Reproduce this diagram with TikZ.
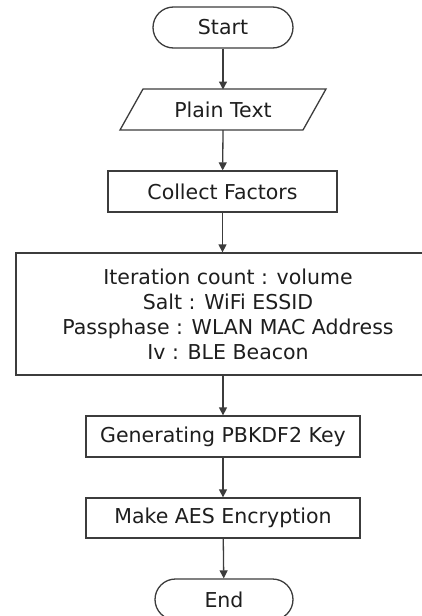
\documentclass[tikz,border=0pt]{standalone}
\usepackage{fontspec}
\setmainfont{DejaVu Sans}
\usetikzlibrary{shapes.misc,arrows.meta}
\definecolor{ln}{HTML}{3C3C3C}
\definecolor{tx}{HTML}{1E1E1E}
\tikzset{
  box/.style={draw=ln, line width=1.3pt, rectangle, inner sep=0pt, text=tx, align=center, font=\fontsize{20.5}{25}\selectfont},
  term/.style={box, rounded rectangle, minimum width=140pt, minimum height=41pt},
  plain/.style={inner sep=0pt, text=tx, font=\fontsize{20.5}{25}\selectfont},
  conn/.style={draw=ln, line width=1.3pt, -{Triangle[width=8pt,length=8pt]}}
}
\begin{document}
\begin{tikzpicture}[x=1pt,y=-1pt]
\useasboundingbox (0,0) rectangle (422,616);
\clip (0,0) rectangle (422,616);
\fill[white] (0,0) rectangle (422,616);
\node[term] (start) at (223,27.5) {Start};
\coordinate (pin) at (223,89.5);
\node[plain, minimum width=183pt, minimum height=41pt] (pt) at (223,109.5) {Plain Text};
\draw[ln, line width=1.3pt] (143,89) -- (326,89) -- (303,130) -- (120,130) -- cycle;
\node[box, minimum width=229pt, minimum height=41pt] (cf) at (222.5,191.5) {Collect Factors};
\node[box, minimum width=424pt, minimum height=122pt] (fac) at (228,314) {Iteration count : volume\\Salt : WiFi ESSID\\Passphase : WLAN MAC Address\\Iv : BLE Beacon};
\node[box, minimum width=274pt, minimum height=41pt] (gen) at (223,436.5) {Generating PBKDF2 Key};
\node[box, minimum width=274pt, minimum height=40pt] (aes) at (223,518) {Make AES Encryption};
\node[term, minimum width=138pt] (end) at (224,599.5) {End};
\draw[conn] (start) -- (pin);
\draw[conn] (pt.south) -- (cf);
\draw[conn] (cf) -- (fac.north -| cf);
\draw[conn] (fac.south -| gen) -- (gen);
\draw[conn] (gen) -- (aes);
\draw[conn] (aes) -- (end);
\end{tikzpicture}
\end{document}
